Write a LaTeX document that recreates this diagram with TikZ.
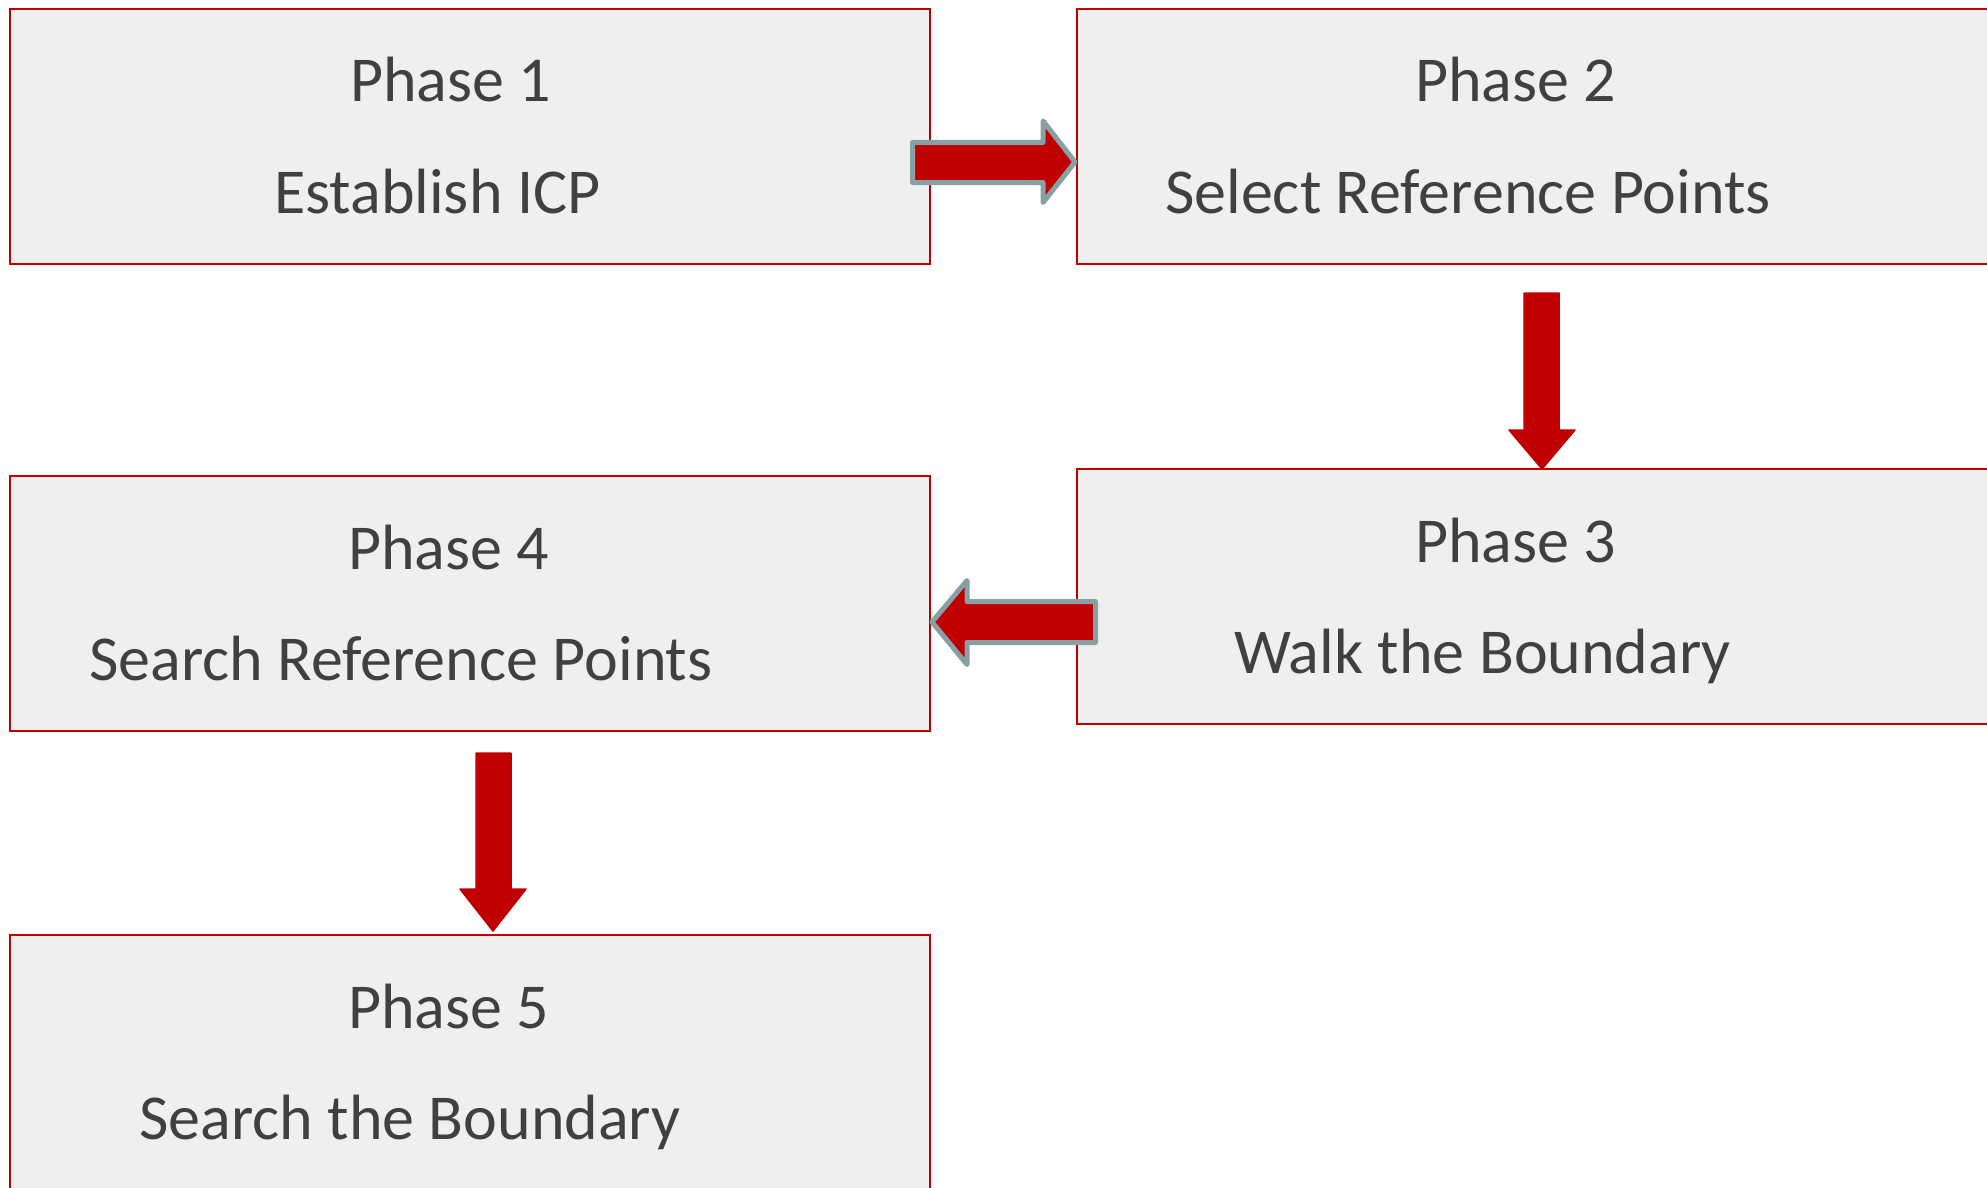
\documentclass[tikz,border=0pt]{standalone}
\usepackage{fontspec}
\setmainfont{Carlito}
\definecolor{boxfill}{HTML}{EFEFEF}
\definecolor{boxred}{HTML}{C00000}
\definecolor{txt}{HTML}{404040}
\definecolor{arrgrey}{HTML}{86A0A4}
\tikzset{
  phasebox/.style={fill=boxfill, draw=boxred, line width=2.5pt},
  lbl/.style={anchor=base west, inner sep=0pt, text=txt, font=\fontsize{64}{76}\selectfont},
  greyarrow/.style={fill=boxred, draw=arrgrey, line width=5pt, line join=round},
  redarrow/.style={fill=boxred, draw=boxred, line width=1.5pt, line join=round}
}
\begin{document}
\begin{tikzpicture}[x=1pt,y=-1pt]
\useasboundingbox (0,0) rectangle (1987,1188);
\clip (0,0) rectangle (1987,1188);
% boxes
\draw[phasebox] (10,9) rectangle (930,264);
\draw[phasebox] (1077,9) rectangle (2010,264);
\draw[phasebox] (1077,469) rectangle (2010,724);
\draw[phasebox] (10,476) rectangle (930,731);
\draw[phasebox] (10,935) rectangle (930,1215);
% texts
\node[lbl] (p1) at (350,102) {Phase 1};
\node[lbl] (t1) at (274,213) {Establish ICP};
\node[lbl] (p2) at (1415,102) {Phase 2};
\node[lbl] (t2) at (1165,213) {Select Reference Points};
\node[lbl] (p3) at (1415,562) {Phase 3};
\node[lbl] (t3) at (1234,673) {Walk the Boundary};
\node[lbl] (p4) at (348,569) {Phase 4};
\node[lbl] (t4) at (89,680) {Search Reference Points};
\node[lbl] (p5) at (348,1028) {Phase 5};
\node[lbl] (t5) at (139,1139) {Search the Boundary};
% arrows
\draw[greyarrow] (912.5,142.5) -- (1043,142.5) -- (1043,121) -- (1075,162) -- (1043,202.5) -- (1043,182.5) -- (912.5,182.5) -- cycle;
\draw[redarrow] (1524,293) -- (1559,293) -- (1559,430) -- (1575,430) -- (1542,469) -- (1509,430) -- (1524,430) -- cycle;
\draw[greyarrow] (1095.5,601.5) -- (967,601.5) -- (967,580.5) -- (932,622) -- (967,664.5) -- (967,642.5) -- (1095.5,642.5) -- cycle;
\draw[redarrow] (476,753) -- (511,753) -- (511,889) -- (526,889) -- (493,931) -- (460,889) -- (476,889) -- cycle;
\end{tikzpicture}
\end{document}
